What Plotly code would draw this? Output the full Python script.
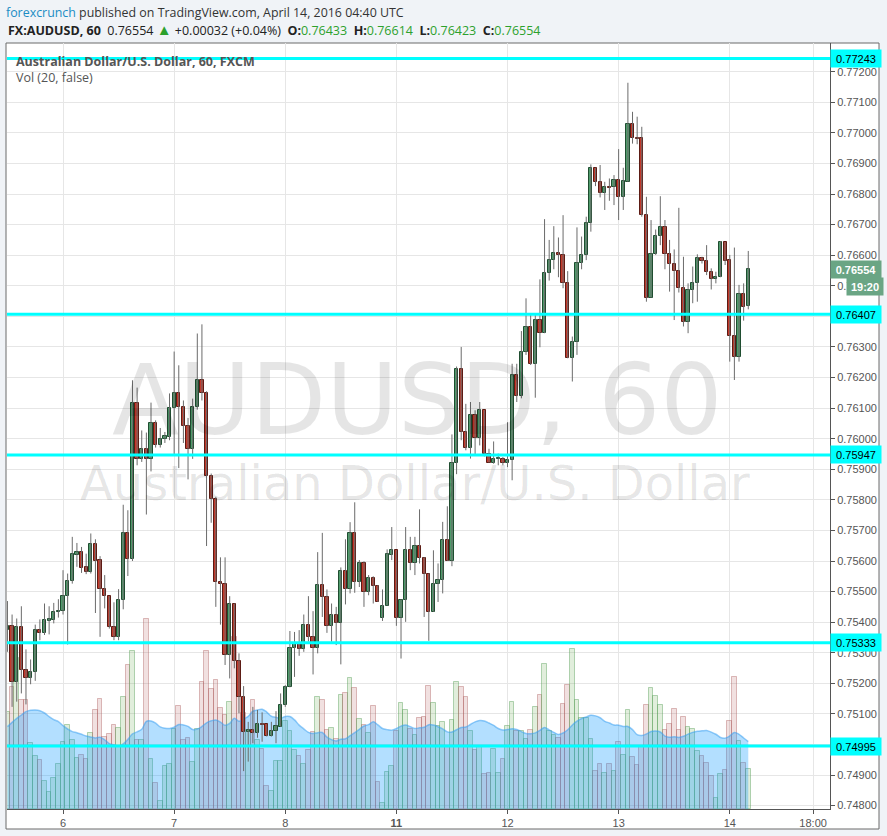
import numpy as np
import pandas as pd
import plotly.graph_objects as go

# --- datos: velas de 1 hora AUDUSD (FXCM), 5-abr 12:00 a 14-abr 04:00 UTC ---
opens = [
    0.75376, 0.75386, 0.75203, 0.75383, 0.75242, 0.75216, 0.75238, 0.75373, 0.75363, 0.75404,
    0.75408, 0.75432, 0.75435, 0.75484, 0.75536, 0.75621, 0.75628, 0.75580, 0.75564, 0.75655,
    0.75602, 0.75510, 0.75484, 0.75383, 0.75350, 0.75474, 0.75690, 0.75605, 0.76118, 0.75935,
    0.75967, 0.75935, 0.76052, 0.75980, 0.76000, 0.76005, 0.76101, 0.76150, 0.76105, 0.76043,
    0.75967, 0.76104, 0.76193, 0.76150, 0.75879, 0.75804, 0.75532, 0.75526, 0.75294, 0.75461,
    0.75273, 0.75156, 0.75040, 0.75049, 0.75036, 0.75066, 0.75066, 0.75029, 0.75044, 0.75058,
    0.75129, 0.75187, 0.75317, 0.75328, 0.75311, 0.75390, 0.75350, 0.75314, 0.75521, 0.75481,
    0.75387, 0.75423, 0.75396, 0.75567, 0.75510, 0.75692, 0.75532, 0.75592, 0.75499, 0.75546,
    0.75519, 0.75415, 0.75454, 0.75619, 0.75635, 0.75412, 0.75472, 0.75635, 0.75594, 0.75648,
    0.75611, 0.75557, 0.75434, 0.75526, 0.75539, 0.75670, 0.75600, 0.75922, 0.76229, 0.76022,
    0.75971, 0.76078, 0.76003, 0.76093, 0.75951, 0.75922, 0.75935, 0.75935, 0.75922, 0.75931,
    0.76209, 0.76139, 0.76283, 0.76364, 0.76245, 0.76388, 0.76345, 0.76541, 0.76586, 0.76606,
    0.76600, 0.76508, 0.76263, 0.76315, 0.76573, 0.76600, 0.76704, 0.76884, 0.76840, 0.76805,
    0.76822, 0.76822, 0.76845, 0.76791, 0.76840, 0.77029, 0.76983, 0.76982, 0.76733, 0.76461,
    0.76603, 0.76663, 0.76691, 0.76603, 0.76571, 0.76549, 0.76492, 0.76383, 0.76486, 0.76510,
    0.76590, 0.76582, 0.76544, 0.76521, 0.76528, 0.76643, 0.76584, 0.76337, 0.76268, 0.76472,
    0.76433,
]
highs = [
    0.75469, 0.75425, 0.75412, 0.75452, 0.75311, 0.75278, 0.75392, 0.75409, 0.75461, 0.75452,
    0.75463, 0.75475, 0.75570, 0.75559, 0.75679, 0.75659, 0.75646, 0.75624, 0.75690, 0.75671,
    0.75616, 0.75554, 0.75485, 0.75465, 0.75508, 0.75784, 0.75766, 0.76191, 0.76167, 0.76027,
    0.76020, 0.76118, 0.76060, 0.76035, 0.76022, 0.76148, 0.76285, 0.76240, 0.76125, 0.76068,
    0.76131, 0.76344, 0.76374, 0.76155, 0.75886, 0.75810, 0.75612, 0.75612, 0.75485, 0.75461,
    0.75298, 0.75191, 0.75074, 0.75123, 0.75113, 0.75105, 0.75066, 0.75074, 0.75109, 0.75167,
    0.75194, 0.75371, 0.75368, 0.75374, 0.75425, 0.75485, 0.75436, 0.75629, 0.75692, 0.75507,
    0.75461, 0.75450, 0.75579, 0.75671, 0.75727, 0.75792, 0.75603, 0.75599, 0.75554, 0.75550,
    0.75521, 0.75507, 0.75638, 0.75711, 0.75635, 0.75475, 0.75711, 0.75679, 0.75679, 0.75769,
    0.75613, 0.75559, 0.75635, 0.75592, 0.75728, 0.75779, 0.76014, 0.76236, 0.76300, 0.76114,
    0.76120, 0.76093, 0.76120, 0.76093, 0.75967, 0.75991, 0.75951, 0.75940, 0.76054, 0.76245,
    0.76245, 0.76352, 0.76459, 0.76405, 0.76405, 0.76521, 0.76718, 0.76650, 0.76695, 0.76658,
    0.76731, 0.76548, 0.76334, 0.76691, 0.76661, 0.76726, 0.76897, 0.76886, 0.76895, 0.76840,
    0.76851, 0.76862, 0.76947, 0.76886, 0.77164, 0.77069, 0.77053, 0.77020, 0.76791, 0.76715,
    0.76684, 0.76793, 0.76715, 0.76650, 0.76619, 0.76755, 0.76595, 0.76508, 0.76563, 0.76603,
    0.76595, 0.76633, 0.76557, 0.76546, 0.76646, 0.76643, 0.76601, 0.76625, 0.76503, 0.76508,
    0.76614,
]
lows = [
    0.75303, 0.75123, 0.75140, 0.75167, 0.75131, 0.75197, 0.75208, 0.75341, 0.75358, 0.75360,
    0.75396, 0.75415, 0.75425, 0.75327, 0.75526, 0.75581, 0.75561, 0.75557, 0.75559, 0.75430,
    0.75352, 0.75445, 0.75379, 0.75341, 0.75341, 0.75442, 0.75551, 0.75600, 0.75913, 0.75924,
    0.75752, 0.75893, 0.75971, 0.75971, 0.75986, 0.75995, 0.75945, 0.75904, 0.75986, 0.75867,
    0.75934, 0.76095, 0.76125, 0.75649, 0.75725, 0.75450, 0.75392, 0.75260, 0.75216, 0.75249,
    0.75102, 0.74913, 0.74944, 0.75004, 0.75022, 0.75009, 0.75026, 0.75026, 0.75004, 0.75058,
    0.75123, 0.75187, 0.75221, 0.75290, 0.75303, 0.75336, 0.75229, 0.75298, 0.75417, 0.75365,
    0.75336, 0.75325, 0.75262, 0.75458, 0.75494, 0.75496, 0.75515, 0.75450, 0.75488, 0.75461,
    0.75466, 0.75404, 0.75454, 0.75603, 0.75388, 0.75281, 0.75401, 0.75570, 0.75554, 0.75592,
    0.75417, 0.75339, 0.75434, 0.75466, 0.75494, 0.75600, 0.75583, 0.75884, 0.75995, 0.75962,
    0.75935, 0.75946, 0.75978, 0.75942, 0.75922, 0.75918, 0.75913, 0.75913, 0.75907, 0.75864,
    0.76120, 0.76132, 0.76274, 0.76241, 0.76134, 0.76299, 0.76345, 0.76517, 0.76554, 0.76528,
    0.76492, 0.76263, 0.76187, 0.76274, 0.76554, 0.76584, 0.76677, 0.76826, 0.76789, 0.76748,
    0.76778, 0.76764, 0.76715, 0.76748, 0.76840, 0.76965, 0.76963, 0.76726, 0.76448, 0.76461,
    0.76601, 0.76633, 0.76554, 0.76481, 0.76388, 0.76478, 0.76367, 0.76345, 0.76443, 0.76448,
    0.76573, 0.76535, 0.76488, 0.76508, 0.76528, 0.76568, 0.76252, 0.76192, 0.76252, 0.76386,
    0.76423,
]
closes = [
    0.75387, 0.75203, 0.75383, 0.75242, 0.75216, 0.75238, 0.75373, 0.75363, 0.75407, 0.75410,
    0.75432, 0.75436, 0.75485, 0.75536, 0.75622, 0.75629, 0.75578, 0.75564, 0.75655, 0.75600,
    0.75509, 0.75484, 0.75383, 0.75350, 0.75474, 0.75690, 0.75605, 0.76118, 0.75935, 0.75967,
    0.75935, 0.76052, 0.75980, 0.76000, 0.76008, 0.76101, 0.76150, 0.76105, 0.76043, 0.75967,
    0.76105, 0.76193, 0.76150, 0.75879, 0.75804, 0.75532, 0.75526, 0.75294, 0.75461, 0.75273,
    0.75156, 0.75040, 0.75049, 0.75036, 0.75066, 0.75064, 0.75029, 0.75044, 0.75060, 0.75129,
    0.75187, 0.75317, 0.75328, 0.75311, 0.75390, 0.75350, 0.75314, 0.75521, 0.75481, 0.75387,
    0.75423, 0.75396, 0.75567, 0.75510, 0.75692, 0.75532, 0.75592, 0.75499, 0.75546, 0.75519,
    0.75466, 0.75454, 0.75622, 0.75635, 0.75412, 0.75472, 0.75635, 0.75594, 0.75648, 0.75611,
    0.75556, 0.75434, 0.75526, 0.75539, 0.75670, 0.75600, 0.75922, 0.76229, 0.76022, 0.75971,
    0.76078, 0.76003, 0.76093, 0.75951, 0.75922, 0.75935, 0.75937, 0.75922, 0.75931, 0.76209,
    0.76139, 0.76283, 0.76364, 0.76245, 0.76388, 0.76345, 0.76541, 0.76586, 0.76606, 0.76600,
    0.76508, 0.76263, 0.76315, 0.76573, 0.76600, 0.76704, 0.76884, 0.76840, 0.76805, 0.76822,
    0.76821, 0.76845, 0.76791, 0.76842, 0.77029, 0.76982, 0.76981, 0.76733, 0.76461, 0.76603,
    0.76663, 0.76691, 0.76603, 0.76571, 0.76549, 0.76492, 0.76383, 0.76486, 0.76510, 0.76590,
    0.76582, 0.76544, 0.76521, 0.76528, 0.76643, 0.76582, 0.76337, 0.76268, 0.76472, 0.76432,
    0.76554,
]
volumes = [
    290, 365, 452, 327, 327, 197, 159, 146, 83, 50, 92, 135, 200, 251, 206, 152, 161, 149, 227, 297,
    329, 215, 224, 251, 243, 335, 431, 473, 206, 206, 569, 149, 77, 23, 129, 135, 239, 308, 206, 212,
    140, 239, 381, 473, 359, 386, 302, 281, 320, 515, 389, 287, 237, 327, 207, 179, 69, 54, 143, 143,
    264, 233, 177, 159, 135, 177, 231, 335, 327, 237, 243, 210, 341, 347, 392, 362, 270, 252, 228, 308,
    81, 17, 110, 129, 233, 317, 297, 239, 221, 273, 275, 368, 317, 249, 260, 185, 266, 381, 365, 335,
    233, 177, 187, 105, 107, 179, 107, 150, 249, 320, 235, 235, 209, 237, 305, 341, 434, 233, 222, 212,
    314, 371, 479, 327, 272, 272, 209, 113, 135, 107, 135, 113, 200, 162, 297, 155, 132, 187, 312, 362,
    338, 311, 237, 255, 300, 237, 275, 245, 239, 173, 159, 137, 99, 34, 105, 116, 263, 395, 203, 137,
    119,
]
# media de volumen (20) en las primeras 19 velas: depende de barras fuera del grafico
vol_ma_head = [247, 260, 272, 282, 292, 296, 297, 295, 288, 277, 268, 262, 250, 240, 232, 229, 224, 219, 216]
MA_LEN = 20

# niveles horizontales dibujados a mano (cian)
levels = [0.77243, 0.76407, 0.75947, 0.75333, 0.74995]
countdown = "19:20"
change_text = "+0.00032 (+0.04%)"

# sesiones horarias (el fin de semana no se dibuja)
times = pd.DatetimeIndex(
    list(pd.date_range("2016-04-05 12:00", "2016-04-08 20:00", freq="h"))
    + list(pd.date_range("2016-04-10 21:00", "2016-04-14 04:00", freq="h"))
)

# --- estilo ---
W, H = 887, 836
L_PX, R_PX, T_PX, B_PX = 7, 830, 43, 809
BG = "#f0f3f7"
GRID = "#e6e6e6"
AXIS = "#555555"
CYAN = "#00ffff"
AXFONT = "Liberation Sans, Arial, sans-serif"
HDFONT = "Open Sans, sans-serif"
SP = "&nbsp;"


def px_x(px):
    return (px - L_PX) / (R_PX - L_PX)


def px_y(py):
    return (B_PX - py) / (B_PX - T_PX)


def main():
    o = np.array(opens)
    c = np.array(closes)
    v = np.array(volumes)
    idx = np.arange(len(o))
    up = c >= o

    vol_ma = pd.Series(v, dtype=float).rolling(MA_LEN).mean()
    vol_ma.iloc[:len(vol_ma_head)] = vol_ma_head

    # marcas del eje x: medianoche de cada dia + 18:00 del ultimo
    tickvals, ticktext = [], []
    for i, t in enumerate(times):
        if t.hour == 0:
            tickvals.append(i)
            lab = str(t.day)
            ticktext.append(f"<b>{lab}</b>" if t.weekday() == 0 else lab)
    tickvals.append(tickvals[-1] + 18)
    ticktext.append("18:00")

    fig = go.Figure()

    # volumen (eje y base, oculto)
    fig.add_trace(go.Bar(
        x=idx, y=v, width=1.0,
        marker=dict(
            color=np.where(up, "rgba(106,168,79,0.20)", "rgba(170,70,70,0.17)"),
            line=dict(color=np.where(up, "rgba(90,160,90,0.45)", "rgba(170,90,90,0.40)"), width=1),
        ),
        yaxis="y", hoverinfo="skip",
    ))
    fig.add_trace(go.Scatter(
        x=idx, y=vol_ma, mode="lines", line=dict(color="rgba(60,160,240,0.55)", width=1.5, shape="spline"),
        fill="tozeroy", fillcolor="rgba(4,150,255,0.30)", yaxis="y", hoverinfo="skip",
    ))

    # mechas
    fig.add_trace(go.Ohlc(
        x=idx, open=opens, high=highs, low=lows, close=closes, tickwidth=0,
        increasing=dict(line=dict(color="#6b6b6b", width=1)),
        decreasing=dict(line=dict(color="#6b6b6b", width=1)),
        yaxis="y2", hoverinfo="skip",
    ))
    # cuerpos
    body_lo = np.minimum(o, c)
    body_h = np.maximum(np.abs(c - o), 0.00002)
    fig.add_trace(go.Bar(
        x=idx, y=body_h, base=body_lo, width=0.7,
        marker=dict(
            color=np.where(up, "#4f9b6b", "#c4392b"),
            line=dict(color=np.where(up, "#1f4d30", "#5c1b14"), width=1),
        ),
        yaxis="y2", hoverinfo="skip",
    ))

    shapes = [
        dict(type="rect", xref="paper", yref="paper",
             x0=px_x(6), x1=px_x(879), y0=px_y(829), y1=px_y(43),
             fillcolor="white", line=dict(color="#6a6a6a", width=1), layer="below"),
    ]
    for lv in levels:
        shapes.append(dict(type="line", xref="paper", yref="y2", x0=0, x1=1, y0=lv, y1=lv,
                           line=dict(color=CYAN, width=3), layer="above"))

    ann = []
    for lv in levels:
        ann.append(dict(xref="paper", yref="y2", x=1, y=lv, xanchor="left", yanchor="middle",
                        text=f"{lv:.5f}", showarrow=False, bgcolor=CYAN, width=48, height=15,
                        font=dict(family=AXFONT, size=11, color="#000")))
    ann.append(dict(xref="paper", yref="y2", x=1, y=closes[-1], xanchor="left", yanchor="middle",
                    text=f"<b>{closes[-1]:.5f}</b>", showarrow=False, bgcolor="#6aa584", width=48, height=15,
                    font=dict(family=AXFONT, size=11, color="white")))
    ann.append(dict(xref="paper", yref="y2", x=1, y=closes[-1], xanchor="left", yanchor="middle",
                    xshift=16, yshift=-17, text=f"<b>{countdown}</b>", showarrow=False, bgcolor="#6aa584",
                    width=34, height=15, font=dict(family=AXFONT, size=11, color="white")))

    # marca de agua
    ann.append(dict(xref="paper", yref="paper", x=px_x(417), y=px_y(400), text="AUDUSD, 60",
                    showarrow=False, font=dict(family="DejaVu Sans", size=98, color="rgba(0,0,0,0.10)")))
    ann.append(dict(xref="paper", yref="paper", x=px_x(415), y=px_y(483),
                    text="Australian Dollar/U.S. Dollar",
                    showarrow=False, font=dict(family="DejaVu Sans", size=48, color="rgba(0,0,0,0.10)")))

    # cabecera
    green = "#2da12d"
    ann.append(dict(xref="paper", yref="paper", x=px_x(4), y=px_y(12), xanchor="left", yanchor="middle",
                    showarrow=False, font=dict(family=HDFONT, size=12.4, color="#333"),
                    text="<span style='color:#1a8cc4'>forexcrunch</span> published on TradingView.com, "
                         "April 14, 2016 04:40 UTC"))
    ann.append(dict(xref="paper", yref="paper", x=px_x(6), y=px_y(29), xanchor="left", yanchor="middle",
                    showarrow=False, font=dict(family=HDFONT, size=12.5, color="#222"),
                    text=(f"<b>FX:AUDUSD, 60</b>{SP}{SP}{closes[-1]:.5f}{SP}"
                          f"<span style='color:{green};font-size:15px'>▲</span>{SP}{change_text}{SP}{SP}"
                          f"<b>O:</b><span style='color:{green}'>{opens[-1]:.5f}</span>{SP}{SP}"
                          f"<b>H:</b><span style='color:{green}'>{highs[-1]:.5f}</span>{SP}{SP}"
                          f"<b>L:</b><span style='color:{green}'>{lows[-1]:.5f}</span>{SP}{SP}"
                          f"<b>C:</b><span style='color:{green}'>{closes[-1]:.5f}</span>")))
    ann.append(dict(xref="paper", yref="paper", x=px_x(14), y=px_y(61), xanchor="left", yanchor="middle",
                    showarrow=False, font=dict(family=HDFONT, size=12.5, color="#555"),
                    text="<b>Australian Dollar/U.S. Dollar, 60, FXCM</b>"))
    ann.append(dict(xref="paper", yref="paper", x=px_x(14), y=px_y(78), xanchor="left", yanchor="middle",
                    showarrow=False, font=dict(family=HDFONT, size=12.5, color="#555"),
                    text="Vol (20, false)"))

    fig.update_layout(
        width=W, height=H,
        margin=dict(l=L_PX, r=W - R_PX, t=T_PX, b=H - B_PX),
        paper_bgcolor=BG, plot_bgcolor="rgba(0,0,0,0)",
        showlegend=False, barmode="overlay", bargap=0,
        shapes=shapes, annotations=ann,
        xaxis=dict(range=[-0.1, 177.65], tickvals=tickvals, ticktext=ticktext,
                   showgrid=True, gridcolor=GRID, zeroline=False, showline=True, linecolor=AXIS,
                   ticks="outside", ticklen=4, tickcolor=AXIS, rangeslider=dict(visible=False),
                   tickfont=dict(family=AXFONT, size=11, color="#555"), fixedrange=True),
        yaxis=dict(range=[0, (B_PX - T_PX) * 3], visible=False, showgrid=False, fixedrange=True),
        yaxis2=dict(overlaying="y", side="right", range=[0.74789, 0.77294], dtick=0.001, tick0=0.748,
                    tickformat=".5f", showgrid=True, gridcolor=GRID, zeroline=False,
                    showline=True, linecolor=AXIS, ticks="outside", ticklen=4, tickcolor=AXIS,
                    tickfont=dict(family=AXFONT, size=11, color="#555"), fixedrange=True),
    )

    # quitar el margen por defecto del body para que la figura empiece en (0, 0)
    fig.write_html("out.html", config={"displayModeBar": False},
                   post_script="document.body.style.margin='0';document.body.style.background='%s';" % BG)


if __name__ == "__main__":
    main()
